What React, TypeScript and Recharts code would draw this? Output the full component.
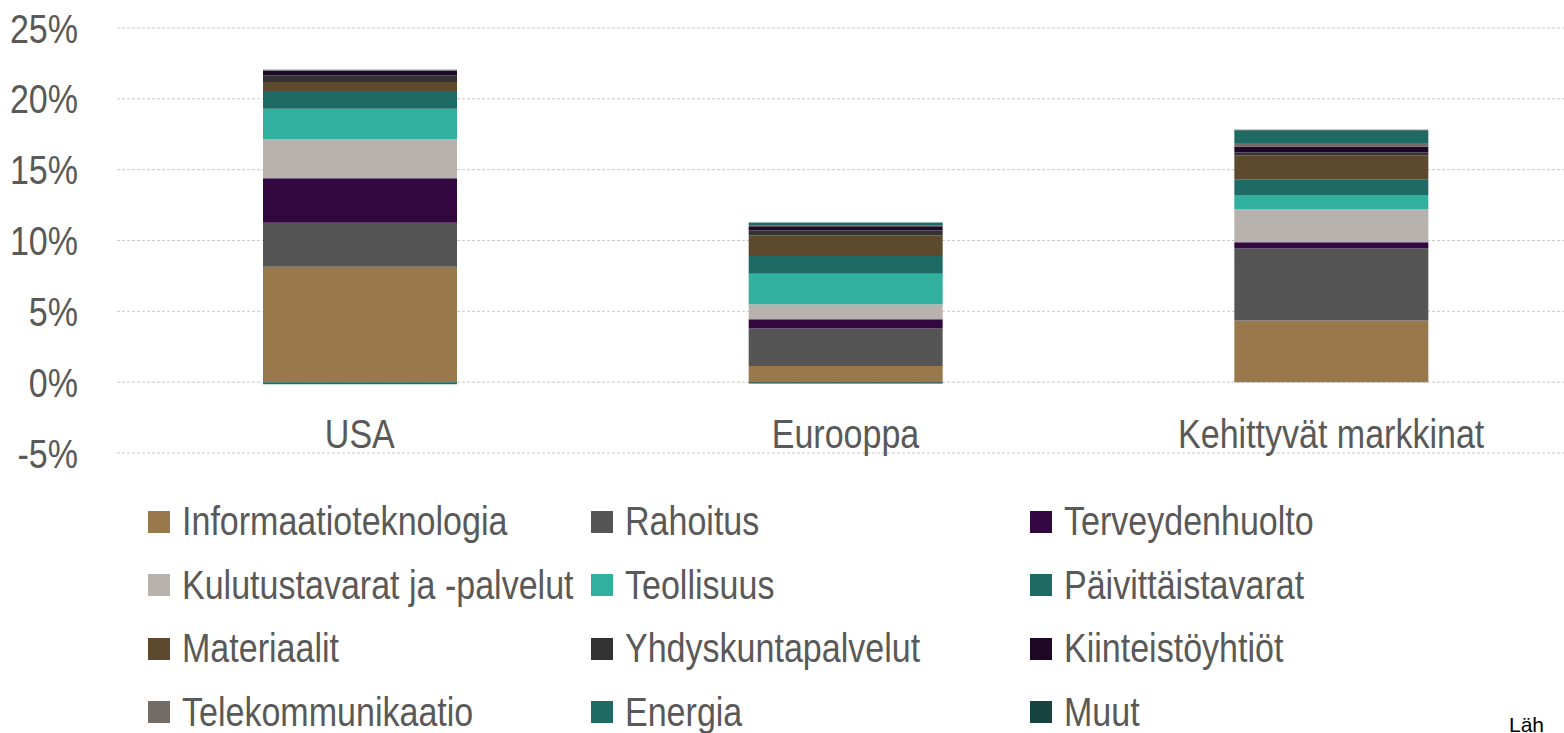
import { BarChart, Bar, XAxis, YAxis, CartesianGrid } from 'recharts';

const REGIONS = ['USA', 'Eurooppa', 'Kehittyvät markkinat'];
const Y_TICKS = [-5, 0, 5, 10, 15, 20, 25];

// sector contributions, % points, order: USA, Eurooppa, Kehittyvät markkinat
const INFORMAATIOTEKNOLOGIA = [8.15, 1.15, 4.35];
const RAHOITUS = [3.1, 2.65, 5.1];
const TERVEYDENHUOLTO = [3.15, 0.65, 0.42];
const KULUTUSTAVARAT = [2.75, 1.05, 2.35];
const TEOLLISUUS = [2.15, 2.15, 1.0];
const PAIVITTAISTAVARAT = [1.25, 1.25, 1.1];
const MATERIAALIT = [0.63, 1.45, 1.7];
const YHDYSKUNTAPALVELUT = [0.47, 0.35, 0.2];
const KIINTEISTOYHTIOT = [0.33, 0.3, 0.42];
const TELEKOMMUNIKAATIO = [0.03, 0.05, 0.25];
const ENERGIA = [-0.15, 0.22, 0.88];
const MUUT = [0.05, -0.1, 0.05];

const SERIES = [
  { key: 'it', name: 'Informaatioteknologia', values: INFORMAATIOTEKNOLOGIA, color: '#99794C' },
  { key: 'rah', name: 'Rahoitus', values: RAHOITUS, color: '#555555' },
  { key: 'ter', name: 'Terveydenhuolto', values: TERVEYDENHUOLTO, color: '#330740' },
  { key: 'kul', name: 'Kulutustavarat ja -palvelut', values: KULUTUSTAVARAT, color: '#B7B2AE' },
  { key: 'teo', name: 'Teollisuus', values: TEOLLISUUS, color: '#31B0A0' },
  { key: 'pai', name: 'Päivittäistavarat', values: PAIVITTAISTAVARAT, color: '#1E6B66' },
  { key: 'mat', name: 'Materiaalit', values: MATERIAALIT, color: '#5D4A2E' },
  { key: 'yhd', name: 'Yhdyskuntapalvelut', values: YHDYSKUNTAPALVELUT, color: '#333333' },
  { key: 'kii', name: 'Kiinteistöyhtiöt', values: KIINTEISTOYHTIOT, color: '#1E0826' },
  { key: 'tel', name: 'Telekommunikaatio', values: TELEKOMMUNIKAATIO, color: '#736B66' },
  { key: 'ene', name: 'Energia', values: ENERGIA, color: '#1F6B64' },
  { key: 'muu', name: 'Muut', values: MUUT, color: '#17433F' },
];

// the original text is a condensed sans; no narrow font here, so squeeze horizontally
const FONT = "'Liberation Sans', Arial, sans-serif";
const SQUEEZE = 0.83;
const TEXT_GRAY = '#595959';

const chartData = REGIONS.map((region, i) => {
  const row: Record<string, string | number> = { region };
  SERIES.forEach((s) => {
    row[s.key] = s.values[i];
  });
  return row;
});

function RegionTick({ x, y, payload }: any) {
  return (
    <g transform={`translate(${x},${y})`}>
      <text transform={`scale(${SQUEEZE},1)`} y={-5} textAnchor="middle" fill={TEXT_GRAY} fontSize={41} fontFamily={FONT}>
        {payload.value}
      </text>
    </g>
  );
}

function PercentTick({ x, y, payload }: any) {
  return (
    <g transform={`translate(${x},${y})`}>
      <text transform={`scale(${SQUEEZE},1)`} dy="0.355em" textAnchor="end" fill={TEXT_GRAY} fontSize={41} fontFamily={FONT}>
        {`${payload.value}%`}
      </text>
    </g>
  );
}

export default function App() {
  return (
    <div style={{ position: 'absolute', left: 0, top: 0, width: 1564, height: 733, overflow: 'hidden', background: '#fff' }}>
      <BarChart
        width={1574}
        height={733}
        data={chartData}
        stackOffset="sign"
        margin={{ top: 28, right: 0, bottom: 220, left: 0 }}
      >
        <CartesianGrid vertical={false} stroke="#c9c9c9" strokeDasharray="3 2" />
        <XAxis
          dataKey="region"
          axisLine={false}
          tickLine={false}
          tickSize={0}
          tickMargin={0}
          height={60}
          tick={<RegionTick />}
          interval={0}
        />
        <YAxis
          width={117}
          domain={[-5, 25]}
          ticks={Y_TICKS}
          axisLine={false}
          tickLine={false}
          tickSize={0}
          tickMargin={39}
          tick={<PercentTick />}
        />
        {SERIES.map((s) => (
          <Bar key={s.key} dataKey={s.key} name={s.name} stackId="a" fill={s.color} barSize={194} isAnimationActive={false} />
        ))}
      </BarChart>

      {/* legend, 3 columns x 4 rows like the original */}
      {SERIES.map((s, i) => {
        const col = i % 3;
        const row = Math.floor(i / 3);
        return (
          <div
            key={s.key}
            style={{
              position: 'absolute',
              left: [148, 591, 1030][col],
              top: 501 + row * 63.5,
              height: 41,
              display: 'flex',
              alignItems: 'center',
              whiteSpace: 'nowrap',
            }}
          >
            <span style={{ display: 'inline-block', width: 22, height: 22, background: s.color, marginRight: 12 }} />
            <span
              style={{
                display: 'inline-block',
                fontFamily: FONT,
                fontSize: 41,
                lineHeight: '41px',
                color: TEXT_GRAY,
                transform: `scaleX(${SQUEEZE})`,
                transformOrigin: 'left center',
              }}
            >
              {s.name}
            </span>
          </div>
        );
      })}

      <div
        style={{
          position: 'absolute',
          left: 1509,
          top: 714,
          fontFamily: FONT,
          fontSize: 21,
          lineHeight: '21px',
          color: '#000',
          whiteSpace: 'nowrap',
        }}
      >
        Läh
      </div>
    </div>
  );
}
